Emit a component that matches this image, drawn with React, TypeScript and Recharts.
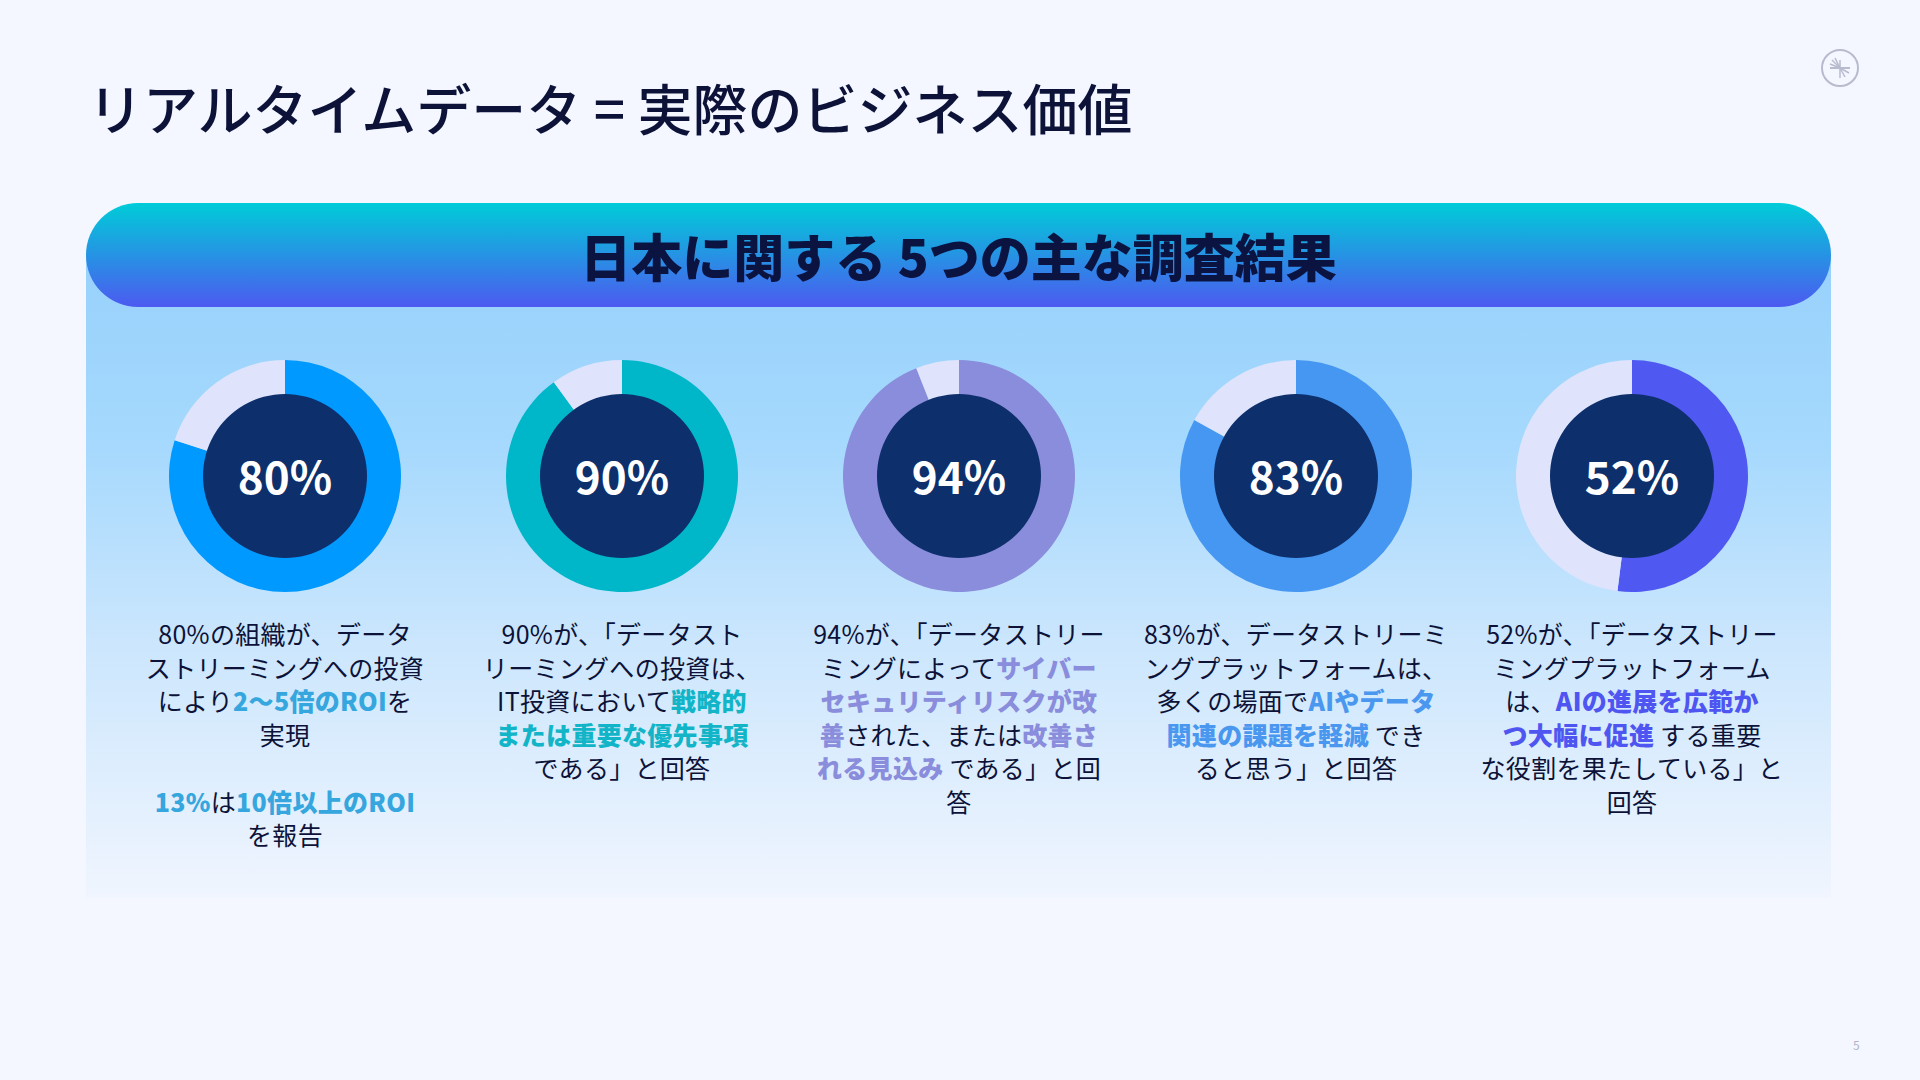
import { Label, Pie, PieChart } from "recharts";

const shares = [80, 90, 94, 83, 52];
const shareLabels = ["80%", "90%", "94%", "83%", "52%"];
const ringColors = ["#0099FF", "#00B7C9", "#8A8CDC", "#4597F2", "#5058F2"];
const accentColors = ["#36A6DE", "#12B5C7", "#8A8CDC", "#4A97F0", "#4F55F0"];
const centerX = [285, 622, 959, 1296, 1632];
const restColor = "#DFE4FC";
const navy = "#0D2F6B";
const ink = "#0C1238";

// each line is a list of [text, highlighted]
type Seg = [string, boolean];
const blurbs: Seg[][][] = [
  [
    [["80%の組織が、データ", false]],
    [["ストリーミングへの投資", false]],
    [["により", false], ["2〜5倍のROI", true], ["を", false]],
    [["実現", false]],
    [],
    [["13%", true], ["は", false], ["10倍以上のROI", true]],
    [["を報告", false]],
  ],
  [
    [["90%が、「データスト", false]],
    [["リーミングへの投資は、", false]],
    [["IT投資において", false], ["戦略的", true]],
    [["または重要な優先事項", true]],
    [["である」と回答", false]],
  ],
  [
    [["94%が、「データストリー", false]],
    [["ミングによって", false], ["サイバー", true]],
    [["セキュリティリスクが改", true]],
    [["善", true], ["された、または", false], ["改善さ", true]],
    [["れる見込み", true], [" である」と回", false]],
    [["答", false]],
  ],
  [
    [["83%が、データストリーミ", false]],
    [["ングプラットフォームは、", false]],
    [["多くの場面で", false], ["AIやデータ", true]],
    [["関連の課題を軽減", true], [" でき", false]],
    [["ると思う」と回答", false]],
  ],
  [
    [["52%が、「データストリー", false]],
    [["ミングプラットフォーム", false]],
    [["は、", false], ["AIの進展を広範か", true]],
    [["つ大幅に促進", true], [" する重要", false]],
    [["な役割を果たしている」と", false]],
    [["回答", false]],
  ],
];

const font = '"Noto Sans CJK JP", "Noto Sans", sans-serif';

function Logo() {
  return (
    <svg width={44} height={44} viewBox="0 0 44 44" style={{ position: "absolute", left: 1818, top: 46 }}>
      <circle cx={22} cy={22} r={18} fill="none" stroke="#B7BBCD" strokeWidth={2} />
      <line x1={12} y1={22} x2={32} y2={22} stroke="#B7BBCD" strokeWidth={2} />
      <line x1={22} y1={14} x2={22} y2={32} stroke="#B7BBCD" strokeWidth={1.5} />
      <line x1={22} y1={22} x2={14} y2={14} stroke="#B7BBCD" strokeWidth={1.5} />
      <line x1={22} y1={22} x2={17} y2={12} stroke="#B7BBCD" strokeWidth={1.5} />
      <line x1={22} y1={22} x2={12} y2={18} stroke="#B7BBCD" strokeWidth={1.5} />
      <line x1={22} y1={22} x2={31} y2={27} stroke="#B7BBCD" strokeWidth={1.5} />
      <line x1={22} y1={22} x2={27} y2={31} stroke="#B7BBCD" strokeWidth={1.5} />
    </svg>
  );
}

function Donut({ i }: { i: number }) {
  const v = shares[i];
  return (
    <div style={{ position: "absolute", left: centerX[i] - 120, top: 476 - 120 }}>
      <PieChart width={240} height={240} margin={{ top: 0, right: 0, bottom: 0, left: 0 }}>
        <Pie
          data={[
            { name: "yes", value: v, fill: ringColors[i] },
            { name: "rest", value: 100 - v, fill: restColor },
          ]}
          dataKey="value"
          cx="50%"
          cy="50%"
          innerRadius={81}
          outerRadius={116}
          startAngle={90}
          endAngle={-270}
          stroke="none"
          isAnimationActive={false}
        />
        <Pie
          data={[{ name: "core", value: 1, fill: navy }]}
          dataKey="value"
          cx="50%"
          cy="50%"
          innerRadius={0}
          outerRadius={82}
          startAngle={90}
          endAngle={-270}
          stroke="none"
          isAnimationActive={false}
        >
          <Label
            value={shareLabels[i]}
            position="center"
            fill="#FFFFFF"
            dy={2}
            style={{ fontSize: 44, fontWeight: 700, fontFamily: font }}
          />
        </Pie>
      </PieChart>
    </div>
  );
}

export default function App() {
  return (
    <div
      style={{
        position: "absolute",
        left: 0,
        top: 0,
        width: 1920,
        height: 1080,
        background: "#F4F7FF",
        fontFamily: font,
        overflow: "hidden",
      }}
    >
      <div
        style={{
          position: "absolute",
          left: 88,
          top: 70,
          fontSize: 55,
          fontWeight: 500,
          color: ink,
          lineHeight: "72px",
          whiteSpace: "nowrap",
        }}
      >
        リアルタイムデータ = 実際のビジネス価値
      </div>
      <Logo />

      {/* panel body */}
      <div
        style={{
          position: "absolute",
          left: 86,
          top: 255,
          width: 1745,
          height: 643,
          background: "linear-gradient(180deg, #97D1FC 0%, #A6D9FD 30%, #CBE6FD 60%, #F0F5FE 100%)",
        }}
      />
      {/* header pill */}
      <div
        style={{
          position: "absolute",
          left: 86,
          top: 203,
          width: 1745,
          height: 104,
          borderRadius: 52,
          background: "linear-gradient(180deg, #00CCD8 0%, #4C5AF0 100%)",
          color: "#0B1340",
          fontSize: 51,
          fontWeight: 900,
          lineHeight: "104px",
          textAlign: "center",
          whiteSpace: "pre",
        }}
      >
        日本に関する 5つの主な調査結果
      </div>

      {shares.map((_, i) => (
        <Donut key={"donut" + i} i={i} />
      ))}

      {blurbs.map((lines, i) => (
        <div
          key={"blurb" + i}
          style={{
            position: "absolute",
            left: centerX[i] - 170,
            top: 617,
            width: 340,
            textAlign: "center",
            fontSize: 25,
            lineHeight: "33.5px",
            color: ink,
            letterSpacing: 0.3,
          }}
        >
          {lines.map((segs, j) => (
            <div key={j} style={{ height: 33.5, whiteSpace: "pre" }}>
              {segs.map(([t, hi], k) => (
                <span
                  key={k}
                  style={hi ? { color: accentColors[i], fontWeight: 900 } : undefined}
                >
                  {t}
                </span>
              ))}
            </div>
          ))}
        </div>
      ))}

      <div style={{ position: "absolute", left: 1853, top: 1036, fontSize: 12, color: "#B0B4C8" }}>5</div>
    </div>
  );
}
